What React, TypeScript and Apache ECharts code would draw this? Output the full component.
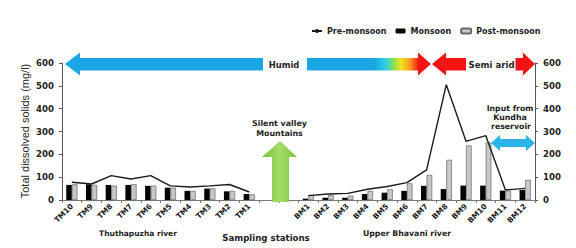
import React, { useEffect, useRef } from 'react';
import * as echarts from 'echarts';

// ---- data ----
const tmStations = ['TM10', 'TM9', 'TM8', 'TM7', 'TM6', 'TM5', 'TM4', 'TM3', 'TM2', 'TM1'];
const bmStations = ['BM1', 'BM2', 'BM3', 'BM4', 'BM5', 'BM6', 'BM7', 'BM8', 'BM9', 'BM10', 'BM11', 'BM12'];
const gapSlots = 2;

const tmPreMonsoon = [78, 70, 107, 92, 107, 62, 57, 62, 68, 35];
const tmMonsoon = [66, 69, 66, 66, 62, 54, 40, 50, 38, 26];
const tmPostMonsoon = [69, 66, 63, 69, 63, 54, 40, 51, 40, 25];

const bmPreMonsoon = [19, 26, 29, 47, 59, 76, 132, 505, 257, 282, 44, 51];
const bmMonsoon = [6, 10, 10, 26, 32, 40, 62, 48, 63, 63, 41, 44];
const bmPostMonsoon = [22, 22, 19, 40, 47, 73, 110, 176, 239, 252, 41, 88];

const yMin = 0;
const yMax = 600;
const yStep = 100;

const gapLabels = Array.from({ length: gapSlots }, () => '');
const gapValues = Array.from({ length: gapSlots }, () => null as number | null);
const categories = [...tmStations, ...gapLabels, ...bmStations];
const preMonsoon = [...tmPreMonsoon, ...gapValues, ...bmPreMonsoon];
const monsoon = [...tmMonsoon, ...gapValues, ...bmMonsoon];
const postMonsoon = [...tmPostMonsoon, ...gapValues, ...bmPostMonsoon];

const BOLD = 'DejaVu Sans';
const TXT = '#1e1e1e';

export default function App() {
  const ref = useRef<HTMLDivElement>(null);
  useEffect(() => {
    document.body.style.margin = '0';
    const chart = echarts.init(ref.current!, null, { renderer: 'svg' });
    const boldText = (text: string, x: number, y: number, size: number) => ({
      type: 'text',
      x,
      y,
      z: 100,
      style: {
        text,
        x: 0,
        y: 0,
        align: 'center',
        verticalAlign: 'middle',
        fontFamily: BOLD,
        fontWeight: 'bold',
        fontSize: size,
        fill: TXT,
      },
    });
    const yAxisCommon = {
      type: 'value',
      min: yMin,
      max: yMax,
      interval: yStep,
      splitLine: { show: false },
      axisLine: { show: true, lineStyle: { color: '#555', width: 1 } },
      axisTick: { show: true, length: 3, lineStyle: { color: '#555' } },
      axisLabel: { fontFamily: BOLD, fontWeight: 'bold', fontSize: 8.6, color: TXT, margin: 8 },
    };
    chart.setOption({
      animation: false,
      backgroundColor: '#ffffff',
      grid: { left: 62, right: 41, top: 63, bottom: 48 },
      legend: {
        left: 311,
        top: 27,
        padding: 0,
        itemWidth: 10,
        itemHeight: 5,
        itemGap: 9,
        textStyle: { fontFamily: BOLD, fontWeight: 'bold', fontSize: 8, color: TXT },
        data: ['Pre-monsoon', 'Monsoon', 'Post-monsoon'],
      },
      xAxis: {
        type: 'category',
        data: categories,
        boundaryGap: true,
        axisLine: { show: true, lineStyle: { color: '#777', width: 1 } },
        axisTick: { show: true, length: 3, lineStyle: { color: '#777' } },
        axisLabel: {
          interval: 0,
          rotate: 45,
          margin: 5,
          fontFamily: BOLD,
          fontWeight: 'bold',
          fontSize: 7.5,
          color: TXT,
        },
      },
      yAxis: [
        { ...yAxisCommon, position: 'left' },
        { ...yAxisCommon, position: 'right' },
      ],
      series: [
        {
          name: 'Monsoon',
          type: 'bar',
          data: monsoon,
          barWidth: 5.6,
          barGap: '0%',
          itemStyle: { color: '#050505' },
        },
        {
          name: 'Post-monsoon',
          type: 'bar',
          data: postMonsoon,
          barWidth: 5.6,
          barGap: '0%',
          itemStyle: { color: '#c8c8c8', borderColor: '#666', borderWidth: 0.7 },
        },
        {
          name: 'Pre-monsoon',
          type: 'line',
          data: preMonsoon,
          symbol: 'none',
          connectNulls: false,
          z: 5,
          lineStyle: { color: '#1a1a1a', width: 1.4 },
          itemStyle: { color: '#1a1a1a' },
        },
      ],
      graphic: [
        // y axis title
        {
          type: 'text',
          x: 25,
          y: 131,
          rotation: Math.PI / 2,
          style: {
            text: 'Total dissolved solids (mg/l)',
            align: 'center',
            verticalAlign: 'middle',
            fontFamily: 'Liberation Sans',
            fontSize: 11,
            fill: '#2a2a2a',
          },
        },
        // humid blue arrow
        {
          type: 'polygon',
          z: 90,
          shape: { points: [[65, 64], [80, 52.5], [80, 58], [263, 58], [263, 70.5], [80, 70.5], [80, 75.5]] },
          style: { fill: '#1aa6e4' },
        },
        boldText('Humid', 284, 64.5, 8.4),
        // gradient transition bar
        {
          type: 'rect',
          z: 90,
          shape: { x: 307, y: 58, width: 112, height: 12.5 },
          style: {
            fill: new echarts.graphic.LinearGradient(0, 0, 1, 0, [
              { offset: 0, color: '#1aa6e4' },
              { offset: 0.6, color: '#1aa6e4' },
              { offset: 0.7, color: '#30cde6' },
              { offset: 0.77, color: '#7ee05a' },
              { offset: 0.84, color: '#f2e21e' },
              { offset: 0.92, color: '#f79a1e' },
              { offset: 1, color: '#f51414' },
            ]),
          },
        },
        {
          type: 'polygon',
          z: 90,
          shape: { points: [[418, 52.5], [431, 64], [418, 75.5]] },
          style: { fill: '#f51414' },
        },
        // semi arid red arrows
        {
          type: 'polygon',
          z: 90,
          shape: { points: [[432, 64], [446, 52.5], [446, 58], [466, 58], [466, 70.5], [446, 70.5], [446, 75.5]] },
          style: { fill: '#f51414' },
        },
        boldText('Semi arid', 491.5, 64.5, 8.6),
        {
          type: 'polygon',
          z: 90,
          shape: { points: [[515.5, 58], [523, 58], [523, 52.5], [535, 64], [523, 75.5], [523, 70.5], [515.5, 70.5]] },
          style: { fill: '#f51414' },
        },
        // silent valley
        boldText('Silent valley', 279.5, 123, 7.9),
        boldText('Mountains', 279.5, 133.5, 7.9),
        {
          type: 'polygon',
          z: 90,
          shape: { points: [[280, 141], [297, 157], [289, 157], [289, 202], [272, 202], [272, 157], [262, 157]] },
          style: {
            fill: new echarts.graphic.LinearGradient(0, 0, 1, 0, [
              { offset: 0, color: '#74c434' },
              { offset: 0.5, color: '#a4dc6a' },
              { offset: 1, color: '#78c638' },
            ]),
          },
        },
        // Kundha reservoir
        boldText('Input from', 510, 108.5, 7.8),
        boldText('Kundha', 510, 117.5, 7.8),
        boldText('reservoir', 511, 126.8, 7.8),
        {
          type: 'polygon',
          z: 90,
          shape: {
            points: [[491, 143], [500, 135], [500, 139], [526, 139], [526, 135], [535, 143], [526, 151], [526, 147], [500, 147], [500, 151]],
          },
          style: { fill: '#2ab4ea' },
        },
        // x titles
        boldText('Thuthapuzha river', 138, 233, 7.5),
        boldText('Sampling stations', 266, 237.5, 8.6),
        boldText('Upper Bhavani river', 407, 233.5, 7.8),
      ],
    });
    return () => chart.dispose();
  }, []);
  return <div ref={ref} style={{ width: 576, height: 248 }} />;
}
